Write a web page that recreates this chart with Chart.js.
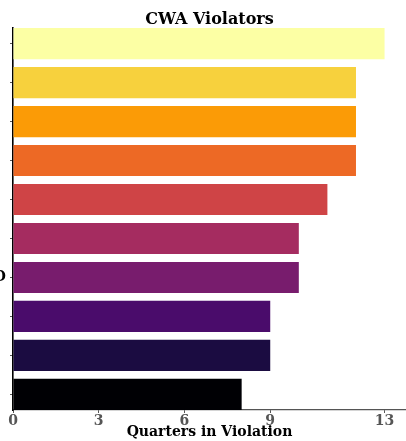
<!DOCTYPE html>
<html>
<head>
<meta charset="utf-8">
<script src="https://cdn.jsdelivr.net/npm/chart.js@4.4.0/dist/chart.umd.min.js"></script>
<style>
  html, body { margin: 0; padding: 0; background: #fff; }
  #wrap { width: 406px; height: 441px; }
</style>
</head>
<body>
<div id="wrap"><canvas id="violatorsChart"></canvas></div>
<script>
// bottom to top, as the bars are stacked on the y axis
const categories = ['', '', '', 'D', '', '', '', '', '', ''];
const quarters = [8, 9, 9, 10, 10, 11, 12, 12, 12, 13];
const barColors = ['#000004', '#1b0c41', '#4a0c6b', '#781c6d', '#a52c60',
                   '#cf4446', '#ed6925', '#fb9b06', '#f7d13d', '#fcffa4'];
const xTicks = [0, 3, 6, 9, 13];

function initializeChart() {
  const ctx = document.getElementById('violatorsChart').getContext('2d');
  const serif = 'DejaVu Serif';

  new Chart(ctx, {
    type: 'bar',
    data: {
      datasets: [{
        data: quarters.map((v, i) => ({ x: v, y: i })),
        backgroundColor: barColors,
        borderWidth: 0,
        categoryPercentage: 1,
        barPercentage: 0.8
      }]
    },
    options: {
      indexAxis: 'y',
      responsive: true,
      maintainAspectRatio: false,
      animation: false,
      layout: { padding: { left: 0, right: 0, top: 0, bottom: 0 } },
      plugins: {
        legend: { display: false },
        tooltip: { enabled: false },
        title: {
          display: true,
          fullSize: false,
          text: 'CWA Violators',
          color: '#000',
          font: { family: serif, size: 16, weight: 'bold', lineHeight: 1.0 },
          padding: { top: 12, bottom: 0 }
        }
      },
      scales: {
        x: {
          type: 'linear',
          min: 0,
          max: 13.75,
          afterBuildTicks: (scale) => {
            scale.ticks = xTicks.map(v => ({ value: v }));
          },
          afterFit: (scale) => { scale.height = 31; },
          ticks: {
            color: '#555',
            padding: 0,
            font: { family: serif, size: 14, weight: 'bold' },
            maxRotation: 0,
            callback: (v) => String(v)
          },
          grid: { drawOnChartArea: false, tickLength: 3, color: '#555' },
          border: { color: '#555', width: 1.2 },
          title: {
            display: true,
            text: 'Quarters in Violation',
            color: '#000',
            font: { family: serif, size: 14, weight: 'bold' },
            padding: { top: -2, bottom: 0 }
          }
        },
        y: {
          type: 'linear',
          min: -0.4,
          max: 9.4,
          offset: false,
          afterBuildTicks: (scale) => {
            scale.ticks = categories.map((c, i) => ({ value: i }));
          },
          afterFit: (scale) => { scale.width = 13; },
          ticks: {
            color: '#000',
            padding: 4,
            font: { family: serif, size: 14, weight: 'bold' },
            callback: (v) => categories[v]
          },
          grid: { drawOnChartArea: false, offset: false, tickLength: 3, color: '#555' },
          border: { color: '#000', width: 1.6 }
        }
      }
    }
  });
}

document.addEventListener('DOMContentLoaded', () => {
  initializeChart();
});
</script>
</body>
</html>
